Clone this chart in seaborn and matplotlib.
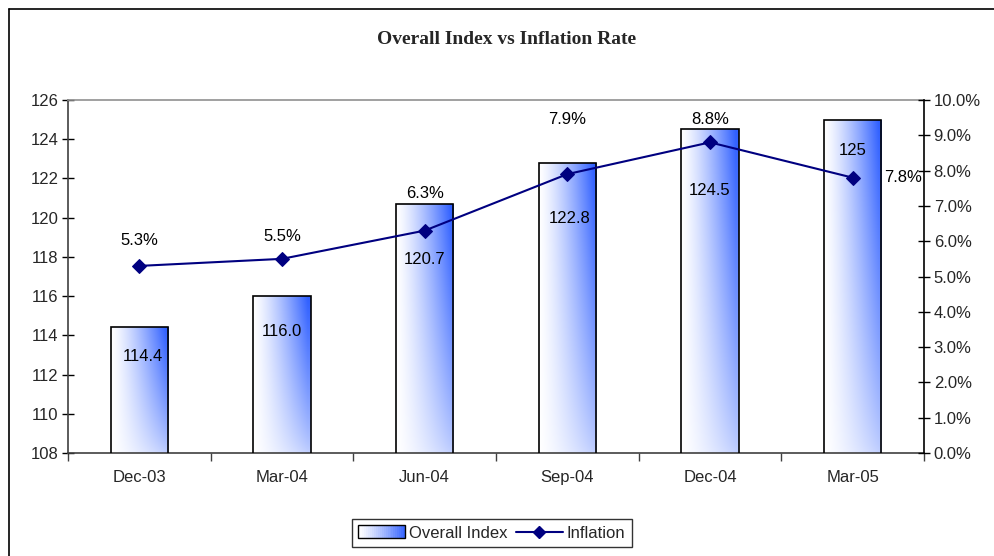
import numpy as np
import pandas as pd
import matplotlib
matplotlib.use("Agg")
import matplotlib.pyplot as plt
import seaborn as sns
from matplotlib.lines import Line2D
from matplotlib.patches import Rectangle, Patch
from matplotlib.legend_handler import HandlerBase
from matplotlib.ticker import PercentFormatter, MultipleLocator, FixedLocator

# ---- data ----
categories = ["Dec-03", "Mar-04", "Jun-04", "Sep-04", "Dec-04", "Mar-05"]
overall_index = [114.4, 116.0, 120.7, 122.8, 124.5, 125.0]
index_labels = ["114.4", "116.0", "120.7", "122.8", "124.5", "125"]
inflation = [0.053, 0.055, 0.063, 0.079, 0.088, 0.078]
inflation_labels = ["5.3%", "5.5%", "6.3%", "7.9%", "8.8%", "7.8%"]

# label placement (pixels, layout only)
idx_label_dy = [-29, -35, -56, -56, -61, -31]
idx_label_dx = [4, 0, 0, 2, 0, 0]
inf_label_dx = [0, 0, 0, 0, 0, 50]
inf_label_dy = [25, 22, 37, 55, 23, 0]

sns.set_theme(style="white")
plt.rcParams["font.family"] = ["Liberation Sans", "DejaVu Sans"]
FS = 12

fig = plt.figure(figsize=(9.95, 5.56), dpi=100)
ax = fig.add_axes([68/995, 1-453/556, (924-68)/995, (453-100)/556])

df = pd.DataFrame({"cat": categories, "idx": overall_index})
sns.barplot(data=df, x="cat", y="idx", ax=ax, width=0.4, color="white",
            edgecolor="black", linewidth=1.2, zorder=2)
ax.set_ylim(108, 126)
ax.set_xlim(-0.5, 5.5)

WHITE = np.array([1.0, 1.0, 1.0])
BLUE = np.array([0x30, 0x60, 0xFF]) / 255.0


def gradient_img(n=64):
    xf = np.linspace(0, 1, n)[None, :]
    yf = np.linspace(0, 1, n)[:, None]  # 0 bottom .. 1 top (origin lower)
    t = np.clip(xf * 1.05, 0, 1) ** 1.3 * (0.3 + 0.7 * yf ** 0.8)
    img = WHITE[None, None, :] * (1 - t[..., None]) + BLUE[None, None, :] * t[..., None]
    return img

img = gradient_img()
for p in ax.patches:
    x0 = p.get_x()
    w = p.get_width()
    h = p.get_height()
    im = ax.imshow(img, extent=(x0, x0 + w, 108, h), origin="lower",
                   aspect="auto", zorder=2.5, interpolation="bilinear")
    im.set_clip_path(p)
    p.set_zorder(3)
    p.set_facecolor("none")

ax.set_xlim(-0.5, 5.5)
ax.set_ylim(108, 126)

# bar labels
for i, (v, lab) in enumerate(zip(overall_index, index_labels)):
    ax.annotate(lab, (i, v), xytext=(idx_label_dx[i], idx_label_dy[i]),
                textcoords="offset pixels", ha="center", va="center",
                fontsize=FS, color="black", zorder=6)

ax.set_xlabel("")
ax.set_ylabel("")
ax.yaxis.set_major_locator(MultipleLocator(2))
ax.xaxis.set_major_locator(FixedLocator(np.arange(-0.5, 6.0, 1.0)))
ax.xaxis.set_minor_locator(FixedLocator(np.arange(0, 6)))
ax.set_xticklabels([])
ax.set_xticklabels(categories, minor=True)
ax.tick_params(axis="x", which="major", direction="out", length=6, width=1,
               color="#404040", bottom=True)
ax.tick_params(axis="x", which="minor", length=0, labelsize=FS, pad=12,
               bottom=True)
ax.tick_params(axis="y", direction="inout", length=8, width=1, color="black",
               labelsize=FS, left=True, pad=3)
for s in ["left", "bottom"]:
    ax.spines[s].set_color("#404040")
    ax.spines[s].set_linewidth(1.2)
ax.spines["top"].set_color("#909090")
ax.spines["top"].set_linewidth(1.2)
ax.spines["right"].set_visible(False)

# line on twin axis
ax2 = ax.twinx()
ldf = pd.DataFrame({"x": np.arange(len(categories)), "inf": inflation})
sns.lineplot(data=ldf, x="x", y="inf", ax=ax2, color="#000080", linewidth=1.5,
             marker="D", markersize=7, markeredgecolor="#000080", zorder=5)
ax2.set_ylim(0, 0.10)
ax2.set_xlim(-0.5, 5.5)
ax2.set_ylabel("")
ax2.yaxis.set_major_locator(MultipleLocator(0.01))
ax2.yaxis.set_major_formatter(PercentFormatter(1.0, decimals=1))
ax2.tick_params(axis="y", direction="inout", length=8, width=1, color="black",
                labelsize=FS, right=True, pad=3)
for s in ["left", "top", "bottom"]:
    ax2.spines[s].set_visible(False)
ax2.spines["right"].set_color("black")
ax2.spines["right"].set_linewidth(1.2)

for i, (v, lab) in enumerate(zip(inflation, inflation_labels)):
    ax2.annotate(lab, (i, v), xytext=(inf_label_dx[i], inf_label_dy[i]),
                 textcoords="offset pixels", ha="center", va="center",
                 fontsize=FS, color="black", zorder=6)

# title
fig.text(507/995, 1-40/556, "Overall Index vs Inflation Rate",
         family=["Liberation Serif", "DejaVu Serif"], fontweight="bold",
         fontsize=14, ha="center", va="center")

# outer frame
fig.add_artist(Line2D([9/995, 9/995], [0, 1-9/556], transform=fig.transFigure,
                      color="black", linewidth=1.2))
fig.add_artist(Line2D([9/995, 1], [1-9/556, 1-9/556], transform=fig.transFigure,
                      color="black", linewidth=1.2))


# legend with gradient patch
class GradientHandler(HandlerBase):
    def create_artists(self, legend, orig_handle, xdescent, ydescent, width,
                       height, fontsize, trans):
        arts = []
        n = 24
        for k in range(n):
            t = (k / (n - 1)) ** 1.2 * 0.95
            c = WHITE * (1 - t) + BLUE * t
            r = Rectangle((-xdescent + width * k / n, -ydescent),
                          width / n + 0.3, height, facecolor=c,
                          edgecolor="none", transform=trans)
            arts.append(r)
        arts.append(Rectangle((-xdescent, -ydescent), width, height,
                              facecolor="none", edgecolor="black",
                              linewidth=1.0, transform=trans))
        return arts

grad_handle = Patch(facecolor="none", label="Overall Index")
line_handle = Line2D([], [], color="#000080", linewidth=1.5, marker="D",
                     markersize=6, label="Inflation")
leg = fig.legend([grad_handle, line_handle], ["Overall Index", "Inflation"],
                 handler_map={Patch: GradientHandler()},
                 loc="center", bbox_to_anchor=(492/995, 1-533/556), ncol=2,
                 fontsize=FS, frameon=True, fancybox=False, handlelength=2.8,
                 handleheight=0.8, columnspacing=0.5, handletextpad=0.25,
                 borderpad=0.4)
leg.get_frame().set_edgecolor("black")
leg.get_frame().set_linewidth(1.0)

fig.savefig("out.png", dpi=100)
